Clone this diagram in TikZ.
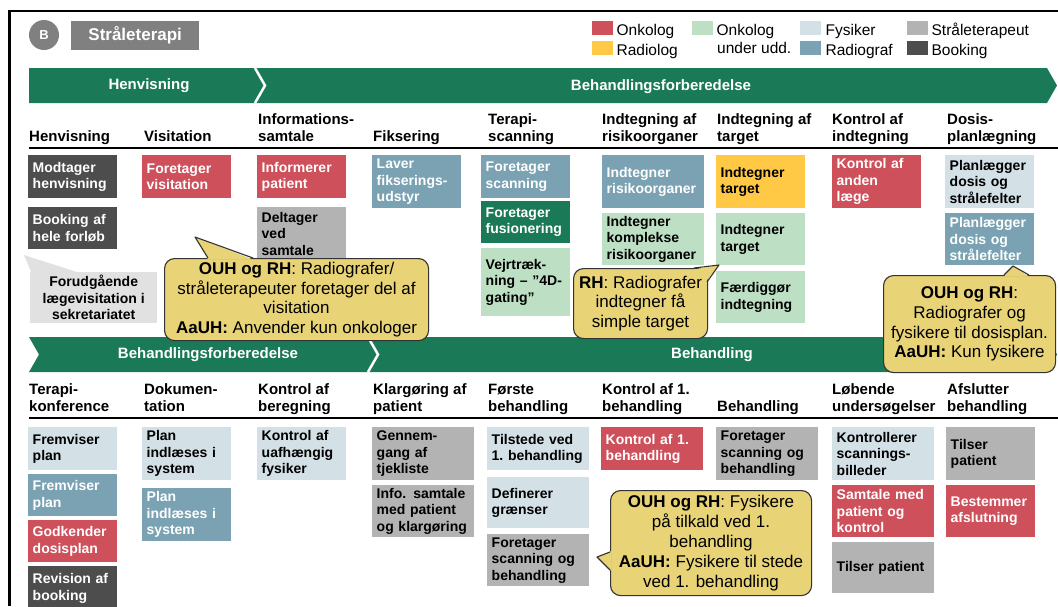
\documentclass[tikz,border=0pt]{standalone}
\usepackage{fontspec}
\setmainfont{Liberation Sans}
\usetikzlibrary{positioning}

\definecolor{onkred}{HTML}{CE505B}
\definecolor{radyel}{HTML}{FFC845}
\definecolor{uddgrn}{HTML}{BDE0C5}
\definecolor{fysblu}{HTML}{D3E0E6}
\definecolor{rgfblu}{HTML}{7AA2B3}
\definecolor{sttgry}{HTML}{B3B3B3}
\definecolor{bkggry}{HTML}{4D4D4D}
\definecolor{fasegrn}{HTML}{1A7A58}
\definecolor{notefill}{HTML}{E8D476}
\definecolor{prefill}{HTML}{E1E1E1}
\definecolor{titlegry}{HTML}{808080}

\newcommand\actfont{\fontsize{14}{16.5}\selectfont\bfseries\hyphenpenalty=10000}
\newcommand\headfont{\fontsize{15}{17.3}\selectfont\bfseries}
\newcommand\notefont{\fontsize{17}{19.8}\selectfont}
\newcommand\legfont{\fontsize{15.5}{19}\selectfont}

\begin{document}
\begin{tikzpicture}[x=1pt, y=-1pt,
		act/.style={anchor=north west, inner xsep=4.5pt, inner ysep=1pt, align=left, font=\actfont, minimum height=#1},
		act/.default=43pt,
		actnarrow/.style={text width=80pt},
		actwide/.style={text width=93pt},
		onk/.style={fill=onkred, text=white},
		rad/.style={fill=radyel},
		udd/.style={fill=uddgrn},
		fys/.style={fill=fysblu},
		rgf/.style={fill=rgfblu, text=white},
		stt/.style={fill=sttgry},
		bkg/.style={fill=bkggry, text=white},
		fus/.style={fill=fasegrn, text=white},
		headtext/.style={anchor=south west, inner sep=0pt, text depth=4pt, align=left, font=\headfont},
		phasetext/.style={text=white, font=\headfont},
		note/.style={anchor=north west, draw=black!80, line width=1.1pt, fill=notefill, rounded corners=10pt, align=center, font=\notefont, inner sep=2pt},
		notedge/.style={draw=black!80, line width=1.1pt, line join=round},
		legsq/.style={anchor=north west, minimum width=21pt, minimum height=14pt, inner sep=0pt},
		legtx/.style={inner sep=0pt, font=\legfont, anchor=base west}]

		\fill[white] (0,0) rectangle (1058,606);
		\useasboundingbox (0,0) rectangle (1058,606);

		% Frame
		\draw[line width=2.2pt] (9.5,606) -- (9.5,11) -- (1058,11);

		% Title
		\node[circle, fill=titlegry, minimum size=30pt, inner sep=0pt, text=white, font=\fontsize{13}{13}\selectfont\bfseries] (badge) at (44,35) {B};
		\node[anchor=north west, fill=titlegry, minimum width=128pt, minimum height=29pt, text=white, font=\fontsize{17}{17}\selectfont\bfseries] (title) at (71,21) {Stråleterapi};

		% Legend
		\node[legsq, fill=onkred] (lgonk) at (592,21) {};
		\node[legsq, fill=radyel] (lgrad) at (592,41) {};
		\node[legsq, fill=uddgrn] (lgudd) at (692,21) {};
		\node[legsq, fill=fysblu] (lgfys) at (800,21) {};
		\node[legsq, fill=rgfblu] (lgrgf) at (800,41) {};
		\node[legsq, fill=sttgry] (lgstt) at (907,21) {};
		\node[legsq, fill=bkggry] (lgbkg) at (907,41) {};
		\node[legtx, right=3pt of lgonk.south east, anchor=base west] (ltonk) {Onkolog};
		\node[legtx, right=3pt of lgrad.south east, anchor=base west] (ltrad) {Radiolog};
		\node[legtx, right=3pt of lgudd.south east, anchor=base west] (ltudd) {Onkolog};
		\node[legtx] (ltudd2) at (717,53) {under udd.};
		\node[legtx, right=4pt of lgfys.south east, anchor=base west] (ltfys) {Fysiker};
		\node[legtx, right=4pt of lgrgf.south east, anchor=base west] (ltrgf) {Radiograf};
		\node[legtx, right=3pt of lgstt.south east, anchor=base west] (ltstt) {Stråleterapeut};
		\node[legtx, right=3pt of lgbkg.south east, anchor=base west] (ltbkg) {Booking};

		% Phase bar, upper half
		\fill[fasegrn] (29,68) -- (1047,68) -- (1057,85.5) -- (1047,103) -- (29,103) -- cycle;
		\draw[white, line width=2.5pt] (255,68) -- (265,85.5) -- (255,103);
		\node[phasetext] (ph1) at (149,86) {Henvisning};
		\node[phasetext] (ph2) at (661,87) {Behandlingsforberedelse};

		% Phase bar, lower half
		\fill[fasegrn] (29,337) -- (1047,337) -- (1057,354.5) -- (1047,372) -- (29,372) -- (39,354.5) -- cycle;
		\draw[white, line width=2.5pt] (368,337) -- (378,354.5) -- (368,372);
		\node[phasetext] (ph3) at (208,355) {Behandlingsforberedelse};
		\node[phasetext] (ph4) at (712,355) {Behandling};

		% Column headings, upper half
		\node[headtext] (h11) at (29,146) {Henvisning};
		\node[headtext] (h12) at (144,146) {Visitation};
		\node[headtext] (h13) at (258,146) {Informations-\\samtale};
		\node[headtext] (h14) at (373,146) {Fiksering};
		\node[headtext] (h15) at (488,146) {Terapi-\\scanning};
		\node[headtext] (h16) at (602,146) {Indtegning af\\risikoorganer};
		\node[headtext] (h17) at (717,146) {Indtegning af\\target};
		\node[headtext] (h18) at (832,146) {Kontrol af\\indtegning};
		\node[headtext] (h19) at (947,146) {Dosis-\\planlægning};
		\draw[line width=2pt] (29,148) -- (1058,148);

		% Column headings, lower half
		\node[headtext] (h21) at (29,415.7) {Terapi-\\konference};
		\node[headtext] (h22) at (144,415.7) {Dokumen-\\tation};
		\node[headtext] (h23) at (258,415.7) {Kontrol af\\beregning};
		\node[headtext] (h24) at (373,415.7) {Klargøring af\\patient};
		\node[headtext] (h25) at (488,415.7) {Første\\behandling};
		\node[headtext] (h26) at (602,415.7) {Kontrol af 1.\\behandling};
		\node[headtext] (h27) at (717,415.7) {Behandling};
		\node[headtext] (h28) at (832,415.7) {Løbende\\undersøgelser};
		\node[headtext] (h29) at (947,415.7) {Afslutter\\behandling};
		\draw[line width=2pt] (29,418) -- (1058,418);

		% Tasks, upper half
		\node[act, actnarrow, bkg] (modt) at (28,155) {Modtager\\henvisning};
		\node[act=42pt, actnarrow, bkg] (book) at (28,207) {Booking af\\hele forløb};
		\node[act, actnarrow, onk] (visi) at (142,155) {Foretager\\visitation};
		\node[act, actnarrow, onk] (info) at (257,155) {Informerer\\patient};
		\node[act=53pt, actnarrow, stt] (delt) at (257,207) {Deltager\\ved\\samtale};
		\node[act=53pt, actnarrow, rgf] (fiks) at (372,155) {Laver\\fikserings-\\udstyr};
		\node[act, actnarrow, rgf] (scan) at (481,155) {Foretager\\scanning};
		\node[act=42pt, actnarrow, fus] (fusi) at (481,201) {Foretager\\fusionering};
		\node[act=68pt, actnarrow, udd] (vejr) at (481,248) {Vejrtræk-\\ning – ”4D-\\gating”};
		\node[act=53pt, actwide, rgf] (risk) at (602,155) {Indtegner\\risikoorganer};
		\node[act=52pt, actwide, udd] (kompl) at (602,213) {Indtegner\\komplekse\\risikoorganer};
		\node[act=53pt, actnarrow, rad] (targ) at (716,155) {Indtegner\\target};
		\node[act=52pt, actnarrow, udd] (targu) at (716,213) {Indtegner\\target};
		\node[act=52pt, actnarrow, udd] (faerd) at (716,271) {Færdiggør\\indtegning};
		\node[act=53pt, actnarrow, onk] (anden) at (832,155) {Kontrol af\\anden\\læge};
		\node[act=53pt, actnarrow, fys] (dosf) at (945,155) {Planlægger\\dosis og\\strålefelter};
		\node[act=52pt, actnarrow, rgf] (dosr) at (945,213) {Planlægger\\dosis og\\strålefelter};

		% Secretariat remark
		\fill[prefill] (24,255) -- (32,274) -- (83,274) -- cycle;
		\node[anchor=north west, fill=prefill, minimum width=127pt, minimum height=51pt, inner sep=1pt, align=center, font=\actfont] (forud) at (30,272) {Forudgående\\lægevisitation i\\sekretariatet};

		% Tasks, lower half
		\node[act, actnarrow, fys] (frem1) at (28,427) {Fremviser\\plan};
		\node[act=42pt, actnarrow, rgf] (frem2) at (28,474) {Fremviser\\plan};
		\node[act=42pt, actnarrow, onk] (godk) at (28,520) {Godkender\\dosisplan};
		\node[act=44pt, actnarrow, bkg] (revi) at (28,566) {Revision af\\booking};
		\node[act=53pt, actnarrow, fys] (plan1) at (142,427) {Plan\\indlæses i\\system};
		\node[act=53pt, actnarrow, rgf] (plan2) at (142,488) {Plan\\indlæses i\\system};
		\node[act=53pt, actnarrow, fys] (uafh) at (257,427) {Kontrol af\\uafhængig\\fysiker};
		\node[act=53pt, actwide, stt] (gennem) at (372,427) {Gennem-\\gang af\\tjekliste};
		\node[act=52pt, actwide, stt] (infos) at (372,485) {Info. samtale\\med patient\\og klargøring};
		\node[act, actwide, fys] (tilst) at (487,427) {Tilstede ved\\1.~behandling};
		\node[act=51pt, actwide, fys] (defi) at (487,477) {Definerer\\grænser};
		\node[act=52pt, actwide, stt] (scanb) at (487,534) {Foretager\\scanning og\\behandling};
		\node[act, actwide, onk] (kontr) at (601,427) {Kontrol af 1.\\behandling};
		\node[act=53pt, actwide, stt] (behs) at (716,427) {Foretager\\scanning og\\behandling};
		\node[act=53pt, actwide, fys] (kscan) at (832,427) {Kontrollerer\\scannings-\\billeder};
		\node[act=52pt, actwide, onk] (samt) at (832,485) {Samtale med\\patient og\\kontrol};
		\node[act=51pt, actwide, stt] (tils1) at (832,542) {Tilser patient};
		\node[act=53pt, actnarrow, stt] (tils2) at (946,427) {Tilser\\patient};
		\node[act=52pt, actnarrow, onk] (best) at (946,485) {Bestemmer\\afslutning};

		% Notes on local practice
		\node[note, minimum width=264pt, minimum height=82pt] (visnote) at (164,258) {\textbf{OUH og RH}: Radiografer/\\stråleterapeuter foretager del af\\visitation\\\textbf{AaUH:} Anvender kun onkologer};
		\fill[notefill] (195,237) -- (208,259.5) -- (253,259.5) -- cycle;
		\draw[notedge] (208,258) -- (195,237) -- (253,258);

		\node[note, minimum width=134pt, minimum height=70pt] (rhnote) at (573,268) {\textbf{RH}: Radiografer\\indtegner få\\simple target};
		\fill[notefill] (719,265) -- (694,269.5) -- (700,276) -- (705.5,282) -- cycle;
		\draw[notedge] (694,268) -- (719,265) -- (707,282);

		\node[note, minimum width=172pt, minimum height=97pt] (dosnote) at (883,275) {\textbf{OUH og RH}:\\Radiografer og\\fysikere til dosisplan.\\\textbf{AaUH:} Kun fysikere};
		\fill[notefill] (1013,266) -- (1004,276.5) -- (1029,276.5) -- cycle;
		\draw[notedge] (1004,275) -- (1013,266) -- (1029,275);

		\node[note, minimum width=201pt, minimum height=105pt] (fysnote) at (610,490) {\textbf{OUH og RH}: Fysikere\\på tilkald ved 1.\\behandling\\\textbf{AaUH:} Fysikere til stede\\ved 1. behandling};
		\fill[notefill] (597,557) -- (611.5,551) -- (611.5,571) -- cycle;
		\draw[notedge] (610,552) -- (597,557) -- (610,570);
	\end{tikzpicture}
\end{document}
